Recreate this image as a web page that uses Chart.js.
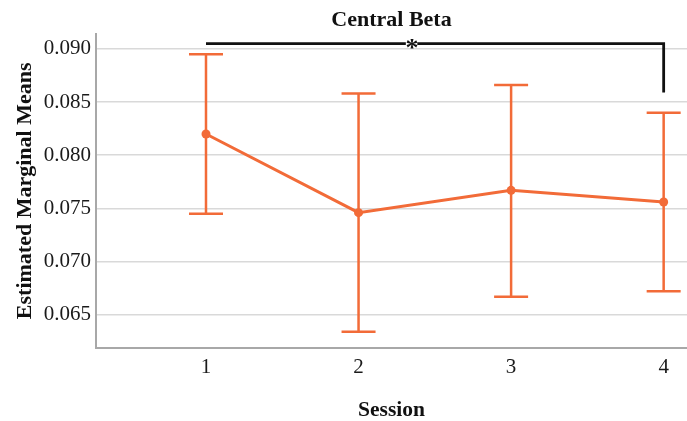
<!DOCTYPE html>
<html><head><meta charset="utf-8">
<script src="https://cdn.jsdelivr.net/npm/chart.js@4"></script>
<style>html,body{margin:0;padding:0;background:#fff}#wrap{width:687px;height:421px}</style>
</head><body><div id="wrap"><canvas id="c" width="687" height="421"></canvas></div>
<script>
const sessions = [1, 2, 3, 4];
const means = [0.0820, 0.0746, 0.0767, 0.0756];
const upper = [0.0895, 0.0858, 0.0866, 0.0840];
const lower = [0.0745, 0.0634, 0.0667, 0.0672];
const yTicks = [0.065, 0.070, 0.075, 0.080, 0.085, 0.090];
const xTicks = [1, 2, 3, 4];
const bracketFrom = 1, bracketTo = 4;
const bracketLevel = 0.0905, bracketDrop = 0.0859;
const starPos = 2.35, starGap = [2.31, 2.385];
const sigLabel = '*';

const ORANGE = '#F26B38';
const FONT = "'Liberation Serif', 'Times New Roman', serif";

const bracketData = [
  {x: bracketFrom, y: bracketLevel},
  {x: starGap[0], y: bracketLevel},
  {x: starPos, y: null},
  {x: starGap[1], y: bracketLevel},
  {x: bracketTo, y: bracketLevel},
  {x: bracketTo, y: bracketDrop}
];

const errorBars = {
  id: 'errorBars',
  beforeDatasetsDraw(chart) {
    const {ctx, scales: {x, y}} = chart;
    ctx.save();
    ctx.strokeStyle = ORANGE;
    ctx.lineWidth = 2.5;
    sessions.forEach((s, i) => {
      const px = x.getPixelForValue(s);
      const pt = y.getPixelForValue(upper[i]);
      const pb = y.getPixelForValue(lower[i]);
      ctx.beginPath();
      ctx.moveTo(px, pt); ctx.lineTo(px, pb);
      ctx.moveTo(px - 17, pt); ctx.lineTo(px + 17, pt);
      ctx.moveTo(px - 17, pb); ctx.lineTo(px + 17, pb);
      ctx.stroke();
    });
    ctx.restore();
  }
};

const starLabel = {
  id: 'starLabel',
  afterDatasetsDraw(chart) {
    const {ctx, scales: {x, y}} = chart;
    ctx.save();
    ctx.fillStyle = '#111';
    ctx.font = "bold 26px " + FONT;
    ctx.textAlign = 'center';
    ctx.textBaseline = 'alphabetic';
    ctx.fillText(sigLabel, x.getPixelForValue(starPos), y.getPixelForValue(bracketLevel) + 12);
    ctx.restore();
  }
};

new Chart(document.getElementById('c'), {
  type: 'line',
  data: {
    datasets: [
      {
        data: sessions.map((s, i) => ({x: s, y: means[i]})),
        borderColor: ORANGE,
        backgroundColor: ORANGE,
        borderWidth: 3,
        pointRadius: 4.5,
        pointBorderWidth: 0,
        tension: 0
      },
      {
        data: bracketData,
        borderColor: '#111',
        borderWidth: 2.8,
        pointRadius: 0,
        spanGaps: false,
        tension: 0,
        borderJoinStyle: 'miter',
        borderCapStyle: 'butt'
      }
    ]
  },
  options: {
    responsive: false,
    animation: false,
    devicePixelRatio: 1,
    layout: {padding: {left: 0, top: 0, bottom: 0, right: -5.3}, autoPadding: false},
    plugins: {
      legend: {display: false},
      tooltip: {enabled: false},
      title: {
        display: true,
        text: 'Central Beta',
        fullSize: false,
        color: '#111',
        font: {family: FONT, size: 22, weight: 'bold', lineHeight: 1},
        padding: {top: 9, bottom: 3}
      }
    },
    scales: {
      x: {
        type: 'linear',
        min: 0.279,
        max: 4.153,
        afterBuildTicks: s => { s.ticks = xTicks.map(v => ({value: v})); },
        afterFit: s => { s.height = 73.3; s.paddingRight = 0; s.paddingLeft = 0; },
        grid: {display: false, drawTicks: false},
        border: {display: true, color: '#a8a8a8', width: 2},
        ticks: {
          color: '#1a1a1a',
          font: {family: FONT, size: 21},
          padding: 7,
          autoSkip: false,
          maxRotation: 0,
          callback: v => String(v)
        },
        title: {
          display: true,
          text: 'Session',
          color: '#111',
          font: {family: FONT, size: 21.5, weight: 'bold', lineHeight: 1},
          padding: {top: 0, bottom: 0}
        }
      },
      y: {
        min: 0.0619,
        max: 0.0914,
        afterBuildTicks: s => { s.ticks = yTicks.map(v => ({value: v})); },
        afterFit: s => { s.width = 96; s.paddingTop = 0; s.paddingBottom = 0; },
        grid: {color: '#d9d9d9', lineWidth: 1.5, drawTicks: false},
        border: {display: true, color: '#a8a8a8', width: 2},
        ticks: {
          color: '#1a1a1a',
          font: {family: FONT, size: 21},
          padding: 5,
          callback: v => Number(v).toFixed(3)
        },
        title: {
          display: true,
          text: 'Estimated Marginal Means',
          color: '#111',
          font: {family: FONT, size: 22, weight: 'bold', lineHeight: 1},
          padding: {top: 14, bottom: 0}
        }
      }
    }
  },
  plugins: [errorBars, starLabel]
});
</script>
</body></html>
